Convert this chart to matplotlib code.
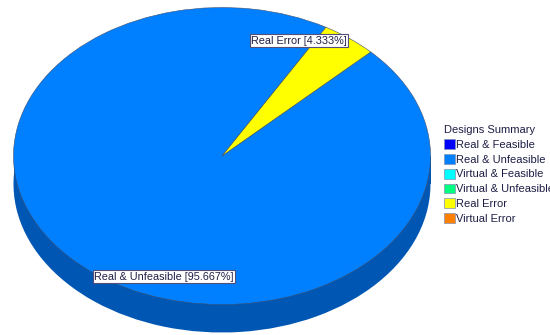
import matplotlib
matplotlib.use("Agg")
import matplotlib.pyplot as plt
from matplotlib.patches import Rectangle, Patch
import numpy as np

plt.rcParams['font.family'] = ['Liberation Sans', 'DejaVu Sans']

# data
categories = ["Real & Feasible", "Real & Unfeasible", "Virtual & Feasible",
              "Virtual & Unfeasible", "Real Error", "Virtual Error"]
colors = ["#0000FF", "#0080FF", "#00FFFF", "#00FF80", "#FFFF00", "#FF8000"]
side_colors = ["#0000A8", "#0057B3", "#00A8A8", "#00A855", "#A8A800", "#A85500"]
values = [0.0, 95.667, 0.0, 0.0, 4.333, 0.0]
title = "Designs Summary"

W, H = 550, 335
fig = plt.figure(figsize=(W / 100, H / 100), dpi=100)
ax = fig.add_axes([0, 0, 1, 1])

cx_px, cy_px = 222, 156          # centre (from top)
a_px, b_px = 208.5, 148.5        # ellipse semi-axes
depth = 28 / b_px

nz = [i for i, v in enumerate(values) if v > 0]
vals = [values[i] for i in nz]
start = 60.1

# side (extrusion)
ax.pie(vals, colors=[side_colors[i] for i in nz], startangle=start, center=(0, -depth),
       wedgeprops=dict(linewidth=0))
ax.add_patch(Rectangle((-1, -depth), 2, depth, facecolor=side_colors[1], edgecolor='none', zorder=1))
# top face
wedges, _ = ax.pie(vals, colors=[colors[i] for i in nz], startangle=start,
                   wedgeprops=dict(linewidth=0.4, edgecolor='#405070'))
for w in wedges:
    w.set_zorder(2)

ax.set_aspect('auto')
ax.set_xlim(-cx_px / a_px, (W - cx_px) / a_px)
ax.set_ylim(-(H - cy_px) / b_px, cy_px / b_px)
ax.axis('off')

# labels
boxprops = dict(boxstyle='square,pad=0.12', facecolor='white', edgecolor='#50507a', linewidth=0.8)
lab_r = 0.86
for idx, ang in [(4, 64.6), (1, 251.0)]:
    pct = values[idx]
    x = lab_r * np.cos(np.radians(ang))
    y = lab_r * np.sin(np.radians(ang))
    ax.text(x, y, f"{categories[idx]} [{pct:.3f}%]", ha='center', va='center',
            fontsize=7.8, color='#1e1e46', bbox=boxprops, zorder=5)

handles = [Patch(facecolor=c, edgecolor='#8090b0', linewidth=0.5) for c in colors]
leg = fig.legend(handles, categories, title=title, loc='upper left',
                 bbox_to_anchor=(436 / W, 1 - 117 / H), frameon=False,
                 fontsize=8, title_fontsize=8, handlelength=1.0, handleheight=1.0,
                 handletextpad=0.1, labelspacing=0.37, borderpad=0.2, alignment='left')
for t in leg.get_texts():
    t.set_color('#1e1e46')
leg.get_title().set_color('#1e1e46')

fig.savefig("out.png", dpi=100)
